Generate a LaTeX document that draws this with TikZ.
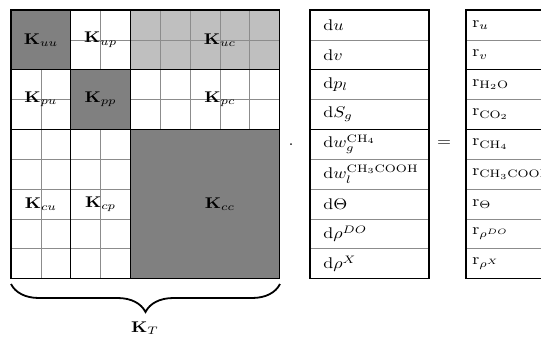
\documentclass[tikz,border=0pt]{standalone}
\usetikzlibrary{decorations.pathreplacing}
\begin{document}
\begin{tikzpicture}[x=1pt,y=-1pt,
  gridline/.style={draw=black!45,line width=0.7pt},
  thickline/.style={draw=black,line width=1.3pt},
  darkfill/.style={fill=black!50},
  lightfill/.style={fill=black!25},
  stretched/.style={inner sep=0pt,font=\fontsize{10}{12}\selectfont,xscale=1.8,yscale=1.55},
  blocklabel/.style={stretched},
  entry/.style={stretched,anchor=west},
  sign/.style={stretched}]
\clip (0,0) rectangle (541,340);
% matrix
\begin{scope}[shift={(11,10)},x=29.85pt,y=-29.85pt]
  \fill[lightfill] (4,0) rectangle (9,2);
  \foreach \k in {1,...,8} {
    \draw[gridline] (\k,0) -- (\k,9);
    \draw[gridline] (0,\k) -- (9,\k);
  }
  \fill[darkfill] (0,0) rectangle (2,2);
  \fill[darkfill] (2,2) rectangle (4,4);
  \fill[darkfill] (4,4) rectangle (9,9);
  \draw[thickline] (0,0) rectangle (9,9);
  \draw[thickline] (2,0) -- (2,9) (4,0) -- (4,9) (0,2) -- (9,2) (0,4) -- (9,4);
  \node[blocklabel] (Kuu) at (1,1) {$\mathbf{K}_{uu}$};
  \node[blocklabel] (Kup) at (3,1) {$\mathbf{K}_{up}$};
  \node[blocklabel] (Kuc) at (7,1) {$\mathbf{K}_{uc}$};
  \node[blocklabel] (Kpu) at (1,3) {$\mathbf{K}_{pu}$};
  \node[blocklabel] (Kpp) at (3,3) {$\mathbf{K}_{pp}$};
  \node[blocklabel] (Kpc) at (7,3) {$\mathbf{K}_{pc}$};
  \node[blocklabel] (Kcu) at (1,6.5) {$\mathbf{K}_{cu}$};
  \node[blocklabel] (Kcp) at (3,6.5) {$\mathbf{K}_{cp}$};
  \node[blocklabel] (Kcc) at (7,6.5) {$\mathbf{K}_{cc}$};
\end{scope}
% brace
\coordinate (braceR) at (280,284);
\coordinate (braceL) at (11,284);
\draw[line width=1.8pt,decorate,decoration={brace,amplitude=28pt}] (braceR) -- (braceL);
\node[blocklabel] (KT) at (145,328) {$\mathbf{K}_T$};
% unknown vector
\begin{scope}[shift={(310,10)},x=1pt,y=-29.85pt]
  \foreach \j in {1,3,5,6,7,8} {\draw[gridline] (0,\j) -- (119,\j);}
  \draw[thickline] (0,0) rectangle (119,9);
  \draw[thickline] (0,2) -- (119,2) (0,4) -- (119,4);
  \node[entry] (du) at (13,0.5) {$\mathrm{d}u$};
  \node[entry] (dv) at (13,1.5) {$\mathrm{d}v$};
  \node[entry] (dp) at (13,2.5) {$\mathrm{d}p_l$};
  \node[entry] (dS) at (13,3.5) {$\mathrm{d}S_g$};
  \node[entry] (dwg) at (13,4.5) {$\mathrm{d}w_g^{\mathrm{CH_4}}$};
  \node[entry] (dwl) at (13,5.5) {$\mathrm{d}w_l^{\mathrm{CH_3COOH}}$};
  \node[entry] (dT) at (13,6.5) {$\mathrm{d}\Theta$};
  \node[entry] (dDO) at (13,7.5) {$\mathrm{d}\rho^{DO}$};
  \node[entry] (dX) at (13,8.5) {$\mathrm{d}\rho^{X}$};
\end{scope}
% residual vector
\begin{scope}[shift={(466,10)},x=1pt,y=-29.85pt]
  \foreach \j in {1,3,5,6,7,8} {\draw[gridline] (0,\j) -- (130,\j);}
  \draw[thickline] (0,0) rectangle (130,9);
  \draw[thickline] (0,2) -- (130,2) (0,4) -- (130,4);
  \node[entry] (ru) at (6,0.5) {$\mathrm{r}_u$};
  \node[entry] (rv) at (6,1.5) {$\mathrm{r}_v$};
  \node[entry] (rH) at (6,2.5) {$\mathrm{r}_{\mathrm{H_2O}}$};
  \node[entry] (rC) at (6,3.5) {$\mathrm{r}_{\mathrm{CO_2}}$};
  \node[entry] (rCH) at (6,4.5) {$\mathrm{r}_{\mathrm{CH_4}}$};
  \node[entry] (rA) at (6,5.5) {$\mathrm{r}_{\mathrm{CH_3COOH}}$};
  \node[entry] (rT) at (6,6.5) {$\mathrm{r}_{\Theta}$};
  \node[entry] (rDO) at (6,7.5) {$\mathrm{r}_{\rho^{DO}}$};
  \node[entry] (rX) at (6,8.5) {$\mathrm{r}_{\rho^{X}}$};
\end{scope}
\node[sign] (dot) at (291,145) {$\cdot$};
\node[sign] (eq) at (444,144) {$=$};
\end{tikzpicture}
\end{document}
